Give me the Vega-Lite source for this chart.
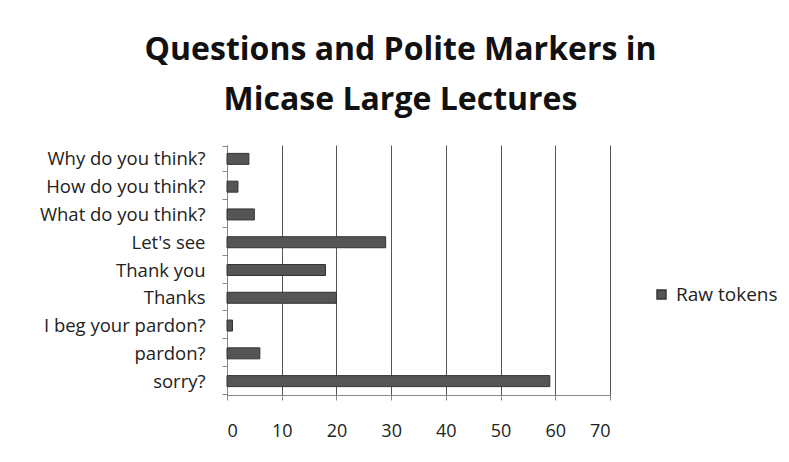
{
  "$schema": "https://vega.github.io/schema/vega-lite/v6.json",
  "width": 383,
  "height": 250,
  "autosize": {"type": "none"},
  "padding": {"left": 227, "top": 145, "right": 179, "bottom": 67},
  "background": "white",
  "title": {
    "text": ["Questions and Polite Markers in", "Micase Large Lectures"],
    "font": "Open Sans",
    "fontSize": 32,
    "fontWeight": "bold",
    "color": "#111111",
    "lineHeight": 50,
    "anchor": "middle",
    "frame": "group",
    "dx": -18,
    "offset": 19
  },
  "data": {
    "values": [
      {"marker": "Why do you think?", "count": 4, "series": "Raw tokens"},
      {"marker": "How do you think?", "count": 2, "series": "Raw tokens"},
      {"marker": "What do you think?", "count": 5, "series": "Raw tokens"},
      {"marker": "Let's see", "count": 29, "series": "Raw tokens"},
      {"marker": "Thank you", "count": 18, "series": "Raw tokens"},
      {"marker": "Thanks", "count": 20, "series": "Raw tokens"},
      {"marker": "I beg your pardon?", "count": 1, "series": "Raw tokens"},
      {"marker": "pardon?", "count": 6, "series": "Raw tokens"},
      {"marker": "sorry?", "count": 59, "series": "Raw tokens"}
    ]
  },
  "mark": {"type": "bar", "size": 11, "stroke": "#333333", "strokeWidth": 1},
  "encoding": {
    "y": {
      "field": "marker",
      "type": "nominal",
      "sort": null,
      "title": null,
      "axis": {
        "tickBand": "extent",
        "tickSize": 5,
        "tickColor": "#888888",
        "domainColor": "#888888",
        "labelFont": "Open Sans",
        "labelFontSize": 18.5,
        "labelColor": "#222222",
        "labelPadding": 17,
        "grid": false
      }
    },
    "x": {
      "field": "count",
      "type": "quantitative",
      "scale": {"domain": [0, 70], "nice": false},
      "title": null,
      "axis": {
        "values": [0, 10, 20, 30, 40, 50, 60, 70],
        "grid": true,
        "gridColor": "#555555",
        "gridWidth": 1,
        "tickSize": 5,
        "tickColor": "#888888",
        "domainColor": "#888888",
        "labelFont": "Open Sans",
        "labelFontSize": 18,
        "labelColor": "#222222",
        "labelPadding": 22
      }
    },
    "color": {
      "field": "series",
      "type": "nominal",
      "scale": {"range": ["#555555"]},
      "legend": {
        "title": null,
        "orient": "none",
        "legendX": 425,
        "legendY": 140,
        "symbolType": "square",
        "symbolSize": 80,
        "symbolStrokeColor": "#333333",
        "labelFont": "Open Sans",
        "labelFontSize": 19,
        "labelColor": "#222222",
        "labelOffset": 5
      }
    }
  },
  "config": {"view": {"stroke": null}}
}
